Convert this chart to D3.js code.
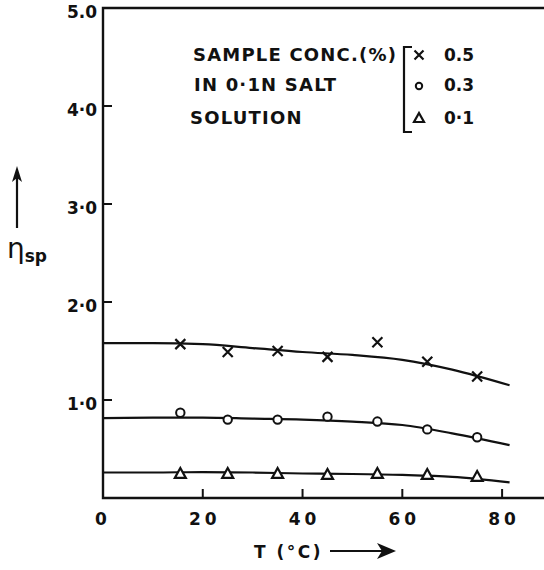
<!DOCTYPE html>
<html>
<head>
<meta charset="utf-8">
<script src="https://cdn.jsdelivr.net/npm/d3@7"></script>
<style>
  body { margin: 0; background: #fff; }
  svg text { font-family: "DejaVu Sans", sans-serif; fill: #111; }
</style>
</head>
<body>
<div id="chart"></div>
<script>
// measured points, T in degC
var temps = [15.5, 25, 35, 45, 55, 65, 75];
var conc05 = [1.57, 1.49, 1.50, 1.44, 1.59, 1.39, 1.24];
var conc03 = [0.87, 0.80, 0.80, 0.83, 0.78, 0.70, 0.62];
var conc01 = [0.25, 0.25, 0.25, 0.24, 0.25, 0.24, 0.22];

// smooth curves drawn through them
var curveT = [0, 10, 20, 30, 40, 50, 60, 70, 81.5];
var curve05 = [1.58, 1.58, 1.57, 1.53, 1.49, 1.46, 1.41, 1.31, 1.15];
var curve03 = [0.815, 0.82, 0.82, 0.81, 0.80, 0.78, 0.745, 0.66, 0.54];
var curve01 = [0.26, 0.26, 0.265, 0.26, 0.25, 0.245, 0.235, 0.215, 0.16];

var xTicks = [0, 20, 40, 60, 80];
var yTicks = [1, 2, 3, 4, 5];
var yTickLabels = ["1·0", "2·0", "3·0", "4·0", "5.0"];
var legendLabels = ["0.5", "0.3", "0·1"];

var width = 544, height = 570;

var x = d3.scaleLinear().domain([0, 88.4]).range([103, 544]);
var y = d3.scaleLinear().domain([0, 5]).range([498, 8]);

var svg = d3.select("#chart").append("svg")
    .attr("width", width)
    .attr("height", height);

// frame: top, left and bottom lines
svg.append("path")
    .attr("d", "M" + x(88.4) + "," + y(5) + "H" + x(0) + "V" + y(0) + "H" + x(88.4))
    .attr("fill", "none")
    .attr("stroke", "#111")
    .attr("stroke-width", 2.4);

// ticks pointing inward
svg.append("g").selectAll("line")
    .data(yTicks.slice(0, 4))
    .enter().append("line")
    .attr("x1", x(0)).attr("x2", x(0) + 9)
    .attr("y1", function (d) { return y(d); })
    .attr("y2", function (d) { return y(d); })
    .attr("stroke", "#111").attr("stroke-width", 2);

svg.append("g").selectAll("line")
    .data(xTicks.slice(1))
    .enter().append("line")
    .attr("x1", function (d) { return x(d); })
    .attr("x2", function (d) { return x(d); })
    .attr("y1", y(0)).attr("y2", y(0) - 9)
    .attr("stroke", "#111").attr("stroke-width", 2);

svg.append("g").selectAll("text")
    .data(yTicks)
    .enter().append("text")
    .attr("x", 97)
    .attr("y", function (d) { return y(d) + 4; })
    .attr("dy", "0.35em")
    .attr("text-anchor", "end")
    .attr("font-size", 17)
    .attr("font-weight", "bold")
    .text(function (d, i) { return yTickLabels[i]; });

svg.append("g").selectAll("text")
    .data(xTicks)
    .enter().append("text")
    .attr("x", function (d) { return x(d) + (d ? 2 : 0); })
    .attr("y", 519)
    .attr("dy", "0.35em")
    .attr("text-anchor", "middle")
    .attr("font-size", 17)
    .attr("font-weight", "bold")
    .attr("letter-spacing", 4)
    .text(function (d) { return d; });

// curves
var line = d3.line()
    .x(function (d) { return x(d[0]); })
    .y(function (d) { return y(d[1]); })
    .curve(d3.curveMonotoneX);

[curve05, curve03, curve01].forEach(function (c) {
    svg.append("path")
        .datum(d3.zip(curveT, c))
        .attr("d", line)
        .attr("fill", "none")
        .attr("stroke", "#111")
        .attr("stroke-width", 2.2);
});

// markers
function cross(g, cx, cy, s) {
    g.append("path")
        .attr("d", "M" + (cx - s) + "," + (cy - s) + "L" + (cx + s) + "," + (cy + s) +
            "M" + (cx + s) + "," + (cy - s) + "L" + (cx - s) + "," + (cy + s))
        .attr("stroke", "#111").attr("stroke-width", 2.2).attr("fill", "none");
}
function circ(g, cx, cy, r) {
    g.append("circle").attr("cx", cx).attr("cy", cy).attr("r", r)
        .attr("stroke", "#111").attr("stroke-width", 2).attr("fill", "#fff");
}
function tri(g, cx, cy, s) {
    g.append("path")
        .attr("d", "M" + cx + "," + (cy - s) + "L" + (cx + s) + "," + (cy + s * 0.8) +
            "L" + (cx - s) + "," + (cy + s * 0.8) + "Z")
        .attr("stroke", "#111").attr("stroke-width", 2.2).attr("fill", "#fff");
}

var marks = svg.append("g");
temps.forEach(function (t, i) {
    cross(marks, x(t), y(conc05[i]), 5);
    circ(marks, x(t), y(conc03[i]), 4.2);
    tri(marks, x(t), y(conc01[i]), 5.5);
});

// legend block
var lg = svg.append("g").attr("font-size", 18).attr("font-weight", "bold");
var rows = [55, 85, 118];
lg.append("text").attr("x", 193).attr("y", rows[0]).attr("dy", "0.35em")
    .attr("letter-spacing", 1.2).text("SAMPLE CONC.(%)");
lg.append("text").attr("x", 194).attr("y", rows[1]).attr("dy", "0.35em")
    .attr("letter-spacing", 1.2).text("IN 0·1N SALT");
lg.append("text").attr("x", 190).attr("y", rows[2]).attr("dy", "0.35em")
    .attr("letter-spacing", 1.2).text("SOLUTION");

lg.append("path")
    .attr("d", "M412,47H404V132H412")
    .attr("fill", "none").attr("stroke", "#111").attr("stroke-width", 2.2);

cross(lg, 419, rows[0], 4.5);
circ(lg, 419, rows[1] + 1, 3.2);
tri(lg, 419, rows[2], 5);

lg.selectAll("text.val")
    .data(legendLabels)
    .enter().append("text")
    .attr("class", "val")
    .attr("x", 444)
    .attr("y", function (d, i) { return rows[i]; })
    .attr("dy", "0.35em")
    .attr("font-size", 17)
    .text(function (d) { return d; });

// axis titles with arrows
function arrow(x1, y1, x2, y2) {
    svg.append("line").attr("x1", x1).attr("y1", y1).attr("x2", x2).attr("y2", y2)
        .attr("stroke", "#111").attr("stroke-width", 2.2);
}
arrow(17, 228, 17, 176);
svg.append("path").attr("d", "M17,166L12,182L17,178L22,182Z").attr("fill", "#111");

var eta = svg.append("text").attr("x", 7).attr("y", 258).attr("font-size", 28);
eta.append("tspan").text("η");
eta.append("tspan").attr("font-size", 17).attr("font-weight", "bold").attr("dy", 4).text("sp");

svg.append("text").attr("x", 254).attr("y", 552).attr("dy", "0.35em")
    .attr("font-size", 17).attr("font-weight", "bold")
    .attr("letter-spacing", 2.5).text("T (°C)");
arrow(330, 551, 386, 551);
svg.append("path").attr("d", "M396,551L377,543L382,551L377,559Z").attr("fill", "#111");
</script>
</body>
</html>
